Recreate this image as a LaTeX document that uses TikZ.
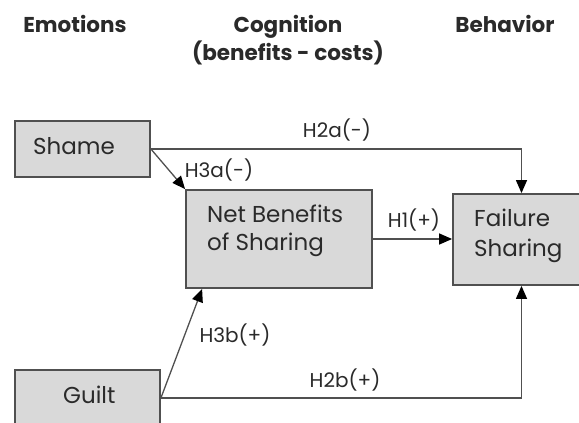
\documentclass[tikz,border=0pt]{standalone}
\usepackage{fontspec}
\setmainfont{Poppins}
\usetikzlibrary{arrows.meta}
\definecolor{boxfill}{HTML}{D9D9D9}
\definecolor{edge}{HTML}{505050}
\definecolor{ink}{HTML}{2A2A2A}
\begin{document}
\begin{tikzpicture}[x=1pt,y=-1pt,
  box/.style={draw=edge,fill=boxfill,line width=1.8pt,inner sep=0pt},
  head/.style={font=\fontsize{21.5}{26}\selectfont\bfseries,text=ink,anchor=base,inner sep=0pt},
  boxtext/.style={font=\fontsize{23}{28}\selectfont,text=ink,anchor=base west,inner sep=0pt,align=left},
  lab/.style={font=\fontsize{20}{22}\selectfont,text=ink,anchor=base,inner sep=0pt},
  link/.style={draw=edge,line width=1.3pt,-{Triangle[length=13pt,width=11pt,color=black]}}]
\useasboundingbox (0,0) rectangle (579,423);
% headers
\node[head] (hemo) at (75,32) {Emotions};
\node[head] (hcog) at (288,32) {Cognition};
\node[head] (hcost) at (288,60) {(benefits - costs)};
\node[head] (hbeh) at (505,32) {Behavior};
% boxes
\node[box,minimum width=135pt,minimum height=56pt] (shame) at (82.5,149) {};
\node[box,minimum width=186pt,minimum height=98pt] (net) at (279,239) {};
\node[box,minimum width=137pt,minimum height=91pt] (fail) at (521.5,239.5) {};
\node[box,minimum width=145pt,minimum height=56pt] (guilt) at (87.5,398) {};
% box texts
\node[boxtext] (shameT) at (33,154) {Shame};
\node[boxtext] (netT) at (207,250) {Net Benefits\\of Sharing};
\node[boxtext,font=\fontsize{23}{30}\selectfont] (failT) at (474,256) {Failure\\Sharing};
\node[boxtext] (guiltT) at (63,403) {Guilt};
% connectors
\draw[link] (shame.east) -| (fail.north);
\draw[link] (shame.east) -- (net.north west);
\draw[link] (net.east) -- (net.east -| fail.west);
\draw[link] (guilt.east) -- ([xshift=17pt]net.south west);
\draw[link] (guilt.east) -| (fail.south);
% labels
\node[lab] (l2a) at (337,137) {H2a(-)};
\node[lab] (l3a) at (219,177) {H3a(-)};
\node[lab] (l1) at (414,227) {H1(+)};
\node[lab] (l3b) at (235,342) {H3b(+)};
\node[lab] (l2b) at (345,387) {H2b(+)};
\end{tikzpicture}
\end{document}
